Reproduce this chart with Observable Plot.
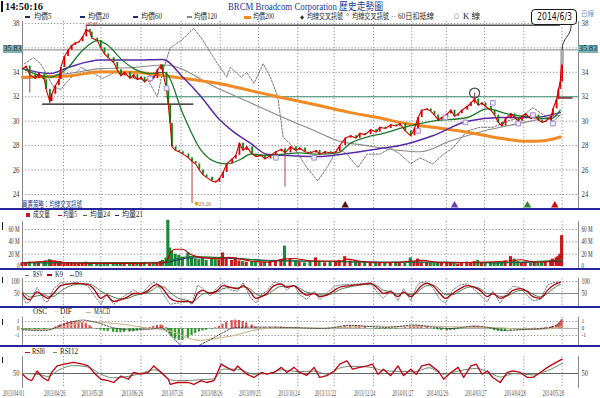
<!DOCTYPE html>
<html><head><meta charset="utf-8">
<script src="https://cdn.jsdelivr.net/npm/d3@7"></script>
<script src="https://cdn.jsdelivr.net/npm/@observablehq/plot@0.6"></script>
<style>
html,body{margin:0;padding:0;background:#fff;}
#root{position:relative;width:600px;height:398px;overflow:hidden;background:#fff;}
</style></head><body><div id="root"></div>
<script>
// ---------- axis ticks ----------
const tickDay = [0,22.5,43,65,87,108.5,129.5,151,171,192.5,213.5,232.5,253.5,275,296];
const tickLabel = ["2013/04/01","2013/04/26","2013/05/28","2013/06/26","2013/07/26","2013/08/26","2013/09/25","2013/10/24","2013/11/22","2013/12/24","2014/01/27","2014/02/26","2014/03/27","2014/04/28","2014/05/28"];
const priceGrid = [24,26,28,30,32,34,36,38];
const priceLabels = [24,26,28,30,32,34,38];

// ---------- price (trading-day index, close) ----------
const priceDay = [0,2,4,7,9,12,13,15,16,18,20,21,23,25,27,29,31,33,35,37,38,41,43,45,47,50,52,54,56,59,61,63,65,67,70,72,74,76,77,79,80,81,82,84,86,88,91,93,95,97,99,101,104,106,108,110,112,115,117,119,121,123,126,128,131,133,136,139,142,144,147,150,152,155,158,161,163,166,169,172,174,177,180,183,185,188,191,194,196,199,202,205,207,210,213,215,217,219,222,224,226,228,230,233,235,237,239,241,244,246,248,250,252,254,257,259,261,263,265,268,270,272,274,276,279,281,283,285,287,290,291,293,294,295,296];
const priceClose = [34.3,34.5,33.8,33.5,33.9,33.4,32.6,31.6,32.2,32.9,33.4,34.4,35.3,35.8,36.2,36.4,36.5,36.9,37.5,37.3,36.8,36.6,36.0,35.5,35.2,34.8,34.2,33.7,34.0,33.5,33.8,33.4,33.6,33.2,33.7,33.5,34.2,34.6,34.0,32.6,31.3,29.8,27.9,27.6,27.5,27.3,27.0,26.7,26.5,26.0,25.6,25.4,25.1,25.0,25.3,25.8,26.5,26.9,27.2,28.2,27.6,27.9,27.3,27.1,27.2,26.9,27.2,27.5,27.7,27.4,27.9,27.6,27.8,27.5,27.4,27.6,27.3,27.5,27.4,27.5,28.0,28.6,28.8,28.6,29.0,28.9,29.3,29.1,29.5,29.4,29.7,29.6,29.8,29.2,28.8,29.4,30.3,30.9,31.0,30.8,30.5,30.1,30.3,30.6,30.9,30.4,30.6,30.9,31.2,31.5,31.8,31.3,31.5,31.2,30.9,30.5,29.9,29.6,30.2,30.6,30.3,30.0,30.4,30.6,30.2,30.5,30.1,29.9,30.0,30.4,31.0,31.8,32.6,33.2,35.83];
const volume = [6,5,7,5,6,8,9,11,10,9,8,7,6,5,6,5,4,6,7,5,4,5,6,5,4,5,6,5,4,5,4,5,6,5,4,5,6,8,10,14,75,30,25,20,18,15,22,14,12,11,13,10,12,14,11,22,12,10,14,9,8,7,8,7,6,7,8,9,10,33,12,9,7,6,8,14,7,6,7,8,10,16,9,7,6,8,5,7,6,5,6,7,6,5,14,8,12,7,6,5,6,5,6,7,5,6,4,5,7,6,8,10,6,5,6,5,7,6,9,16,12,8,6,7,5,6,5,6,8,10,12,14,16,20,50];
const wickDay = [4,15,35,93,144,248];
const wickLow = [32.3,31.3,37.0,23.26,24.6,31.4];
const wickHigh = [34.0,32.5,37.85,26.9,27.8,32.3];
const lastBody = [34.6,35.83];

// ---------- moving averages ----------
const ma20Day = [0,15,25,33,41,47,54,61,70,77,79,88,98,107,112,120,125,134,143,152,162,173,180,189,198,207,225,244,255,266,280,290,295];
const ma20 = [34.3,33.6,34.4,35.8,36.6,36.2,35.1,34.3,33.9,34.0,33.9,30.6,27.6,26.6,26.5,26.9,27.3,27.2,27.3,27.4,27.3,27.4,28.2,28.7,29.0,29.4,30.0,30.3,31.0,30.6,30.3,30.2,30.9];
const ma60Day = [0,15,25,43,61,77,88,98,107,116,125,134,143,162,180,198,207,225,244,262,280,295];
const ma60 = [34.3,33.9,34.4,35.0,35.0,35.05,33.6,32.0,30.3,29.1,28.2,27.3,27.2,27.1,27.4,27.8,28.0,28.8,30.0,30.3,30.3,30.7];
const ma120Day = [0,25,43,61,78,107,125,143,162,173,189,207,218,235,253,272,295];
const ma120 = [33.5,33.9,34.3,34.4,34.6,32.7,31.5,30.3,29.1,28.4,28.0,27.6,27.5,28.4,29.2,29.8,30.5];
const ma200Day = [0,25,43,61,79,98,107,125,140,162,180,198,207,225,244,262,277,286,295];
const ma200 = [33.6,33.7,34.05,34.0,33.7,33.3,33.1,32.5,32.0,31.3,30.7,30.2,29.9,29.5,29.1,28.6,28.35,28.4,28.7];
const deductDay = [1,6,10,17,21,25,32,39,44,52,61,69,74,77,81,87,94,99,107,112,114,120,123,127,132,136,140,143,149,156,162,167,173,178,184,189,196,202,207,213,218,225,231,236,244,251,258,266,273,280,286,291,295];
const deduct = [34.7,35.2,34.7,32.8,32.6,33.3,34.4,33.9,33.5,34.1,33.5,33.3,32.0,34.1,36.0,36.6,37.6,36.6,34.7,33.6,34.4,33.6,34.0,33.1,34.7,33.6,32.0,28.7,27.8,26.2,25.1,26.2,27.8,27.3,26.2,27.3,27.3,27.8,27.3,26.5,27.0,26.5,27.3,27.8,29.2,29.5,29.5,30.0,30.3,31.1,30.5,30.0,30.5];
const signalDay = [70,79,139,160,217,232,243,258,272,280,291];
const signalPrice = [33.5,32.7,27.0,27.0,29.2,30.3,29.9,31.5,29.8,30.5,29.8];
const triangleDay = [177,237,277,292];
const triangleColor = ["#5a1010","#6a3cc0","#2a8a2a","#d01010"];

// ---------- volume averages ----------
const volMa5Day = [0,10,16,22,40,60,76,79,81,84,88,92,100,108,113,118,125,135,143,148,160,175,178,186,200,214,219,230,250,268,273,282,290,294,296];
const volMa5 = [6,8,9,7,5,5,6,8,22,28,28,20,14,13,15,13,9,7,12,13,9,9,12,8,6,9,10,6,7,9,11,7,8,12,20];
const volMa24Day = [0,40,78,84,92,105,120,135,150,170,200,230,260,280,296];
const volMa24 = [6,6,7,12,16,15,13,9,9,8,7,7,6,8,10];
const volMa21 = [6,6,6,10,14,14,12,10,9,8,7,7,6,7,9];

// ---------- KD ----------
const kdDay = [0,2,4,8,12,14,17,21,25,30,36,39,43,46,50,54,58,61,65,69,72,74,77,81,85,91,93,96,99,103,107,110,114,118,121,125,128,131,134,138,142,145,149,152,156,160,163,167,171,174,180,185,191,195,198,202,206,209,213,216,218,222,225,229,232,236,240,244,247,251,255,258,262,266,269,273,277,280,284,288,291,295];
const k9 = [50,30,24,57,37,30,50,83,89,92,87,70,30,43,17,24,37,50,50,63,83,87,70,30,17,17,11,50,63,50,63,83,76,70,83,57,30,37,50,83,89,76,83,63,43,50,37,43,63,76,83,87,92,70,50,57,37,57,37,57,76,92,83,50,30,50,70,83,79,63,37,50,30,43,63,70,57,37,30,63,83,96];
const d9 = [55,45,35,40,45,38,38,60,78,88,90,82,60,48,35,27,30,40,47,55,68,78,78,55,32,20,15,30,48,54,57,70,75,73,77,68,48,40,44,65,80,80,81,72,55,50,44,44,53,66,78,85,89,80,63,58,47,52,45,52,65,83,85,65,45,45,60,75,78,70,50,48,38,40,52,63,60,47,36,50,70,88];
const rsv = [40,10,15,75,20,15,70,95,92,97,80,45,5,45,5,30,50,65,45,80,97,90,50,5,10,15,5,85,70,40,75,95,65,60,95,35,10,45,60,97,90,65,85,45,25,60,25,50,80,85,88,90,95,50,30,65,20,70,20,75,95,98,75,25,10,65,85,90,72,45,15,60,10,55,80,75,40,20,25,85,95,99];

// ---------- MACD ----------
const osc = [-0.2,-0.25,-0.3,-0.3,-0.25,-0.15,-0.1,-0.05,0.0,0.2,0.4,0.5,0.7,0.9,1.0,1.0,0.95,0.85,0.7,0.4,0.2,-0.1,-0.25,-0.35,-0.45,-0.55,-0.6,-0.6,-0.55,-0.5,-0.45,-0.35,-0.25,-0.1,0.15,0.3,0.45,0.5,0.4,0.1,-0.3,-0.8,-1.2,-1.5,-1.7,-1.7,-1.4,-1.0,-0.7,-0.5,-0.35,-0.25,-0.1,0.1,0.3,0.6,0.9,1.15,1.2,1.15,1.0,0.8,0.5,0.2,0.05,0.1,0.15,0.2,0.2,0.15,0.1,0.15,0.1,0.0,-0.05,-0.1,-0.1,-0.05,0.0,0.1,0.2,0.35,0.4,0.4,0.35,0.2,0.0,-0.1,-0.15,-0.15,-0.1,-0.1,0.0,0.15,0.3,0.4,0.4,0.35,0.2,0.05,-0.1,-0.2,-0.3,-0.35,-0.3,-0.25,-0.15,-0.05,0.1,0.2,0.3,0.3,0.2,0.05,-0.1,-0.3,-0.4,-0.45,-0.4,-0.25,-0.1,-0.05,0.0,0.05,0.0,0.05,0.0,0.05,0.1,0.2,0.3,0.45,0.6,0.85,1.2];
const difDay = [0,12,25,33,40,50,60,70,76,80,86,92,100,110,116,125,135,152,165,180,190,200,215,225,235,248,258,265,275,285,292,296];
const dif = [-0.2,-0.3,0.8,1.2,0.9,0.1,-0.2,-0.1,0.1,-0.6,-2.2,-2.8,-2.0,-0.6,0.1,0.2,0.2,0.1,0.0,0.45,0.3,0.15,0.5,0.2,0.0,0.35,0.05,-0.3,-0.15,0.0,0.35,1.3];
const macdDay = [0,12,25,36,43,55,65,75,83,90,97,105,116,127,134,145,152,165,180,195,210,222,235,250,262,275,288,296];
const macd = [-0.1,-0.15,0.4,1.0,0.9,0.6,0.2,-0.1,-0.5,-1.3,-1.7,-1.45,-1.0,-0.25,0.0,0.1,0.05,0.05,0.2,0.35,0.25,0.35,0.25,0.15,0.1,-0.15,-0.05,0.3];

// ---------- RSI ----------
const rsiDay = [0,3,5,8,11,14,16,19,23,28,33,36,40,43,47,50,54,58,61,65,69,72,76,80,81,85,91,94,98,101,105,109,112,116,118,123,127,131,134,138,142,145,149,152,156,160,163,167,171,174,178,181,185,189,192,195,198,202,206,209,213,216,219,223,228,231,235,239,242,246,249,252,255,258,262,266,269,273,277,280,284,288,291,296];
const rsi6 = [48,34,30,57,39,30,53,71,76,81,76,71,48,34,30,25,43,34,53,48,53,71,53,34,20,25,25,20,30,25,30,76,67,57,71,48,39,53,48,53,67,53,67,53,45,67,39,44,57,76,85,62,67,71,76,48,62,44,71,44,62,48,71,76,57,34,53,67,39,71,76,48,57,39,25,53,57,53,39,39,53,67,76,90];
const rsi12Day = [0,8,14,20,28,36,43,50,58,65,72,76,81,88,98,105,110,118,127,135,142,152,160,167,174,180,190,198,206,215,223,231,240,249,258,262,270,280,288,296];
const rsi12 = [50,48,42,60,72,68,48,38,42,50,60,55,32,30,33,35,62,62,48,50,60,55,57,48,65,70,68,58,56,55,66,48,58,64,48,40,50,46,58,78];

// ================= drawing =================
const ROOT = document.getElementById("root");
const FRAME = "#8a8a8a", GRID = "#8c8c8c", DASH = "1.2,2";
const RED = "#e00000", GREEN = "#0a8a0a";
const SERIF = '"Liberation Serif","Noto Sans CJK TC",serif';
const rows = (days, vals) => days.map((d, i) => ({day: d, v: vals[i]}));

function panel(top, height, yDomain, marks, fontSize = "8.5px") {
  const svg = Plot.plot({
    width: 600, height, marginLeft: 22, marginRight: 22, marginTop: 0, marginBottom: 0,
    x: {domain: [0, 305], axis: null},
    y: {domain: yDomain, axis: null},
    style: {background: "transparent", overflow: "visible", fontFamily: '"Liberation Serif", serif', fontSize},
    marks
  });
  svg.style.position = "absolute"; svg.style.left = "0px"; svg.style.top = top + "px";
  ROOT.appendChild(svg);
  return svg;
}
function axisLabels(ticks, fmt) {
  return [
    Plot.text(ticks, {y: d => d, text: fmt, frameAnchor: "left", dx: -3, textAnchor: "end", fill: "#333"}),
    Plot.text(ticks, {y: d => d, text: fmt, frameAnchor: "right", dx: 3, textAnchor: "start", fill: "#333"})
  ];
}
function vgrid(y1, y2) {
  return [
    Plot.ruleX(tickDay.slice(1), {x: d => d, y1: () => y1, y2: () => y2, stroke: GRID, strokeDasharray: DASH}),
    Plot.ruleX([0, 305], {x: d => d, y1: () => y1, y2: () => y2, stroke: FRAME})
  ];
}
function condense(svg, f) {
  svg.querySelectorAll("text").forEach(t => {
    const L = t.getComputedTextLength();
    if (L > 0) { t.setAttribute("textLength", (L * f).toFixed(1)); t.setAttribute("lengthAdjust", "spacingAndGlyphs"); }
  });
}
function label(txt, x, yc, w, o = {}) {
  const size = o.size || 9;
  const s = document.createElement("div");
  s.textContent = txt;
  s.style.cssText = `position:absolute;left:${x}px;top:${yc - size * 0.5}px;white-space:nowrap;line-height:${size}px;height:${size}px;font-size:${size}px;font-family:${o.font || SERIF};color:${o.color || "#222"};font-weight:${o.weight || "normal"};transform-origin:0 50%;`;
  ROOT.appendChild(s);
  if (w) { const nat = s.getBoundingClientRect().width; if (nat > 0) s.style.transform = `scaleX(${w / nat})`; }
  return s;
}
function box(x, y, w, h, css) {
  const d = document.createElement("div");
  d.style.cssText = `position:absolute;left:${x}px;top:${y}px;width:${w}px;height:${h}px;${css}`;
  ROOT.appendChild(d);
  return d;
}

// ---- main price panel ----
const candleRows = priceDay.slice(1).map((d, i) => ({day: d, o: priceClose[i], c: priceClose[i + 1]}));
const wickRows = wickDay.map((d, i) => ({day: d, lo: wickLow[i], hi: wickHigh[i]}));
const priceRows = rows(priceDay, priceClose);
const main = panel(21, 187, [22.85, 38.16], [
  Plot.ruleY(priceGrid, {stroke: GRID, strokeDasharray: DASH}),
  ...vgrid(38.16, 22.85),
  Plot.ruleY([{y: 35.83, a: 0, b: 305}], {y: "y", x1: "a", x2: "b", stroke: "#9c9c9c", strokeWidth: 1.3}),
  Plot.ruleY([{y: 32.0, a: 78, b: 305}], {y: "y", x1: "a", x2: "b", stroke: "#3f8f70", strokeWidth: 1.1}),
  Plot.ruleY([{y: 31.4, a: 11, b: 94}], {y: "y", x1: "a", x2: "b", stroke: "#111", strokeWidth: 1.2}),
  Plot.ruleY([{y: 37.85, a: 35, b: 295}], {y: "y", x1: "a", x2: "b", stroke: "#555", strokeWidth: 1.4}),
  Plot.ruleY([{y: 31.9, a: 294, b: 302}], {y: "y", x1: "a", x2: "b", stroke: "#6a1a1a", strokeWidth: 1.4}),
  Plot.line(rows(deductDay, deduct), {x: "day", y: "v", stroke: "#666", strokeWidth: 0.9, strokeDasharray: "2,1.5"}),
  Plot.line(rows(ma120Day, ma120), {x: "day", y: "v", stroke: "#8a8a8a", strokeWidth: 1.1, curve: "monotone-x"}),
  Plot.line(rows(ma200Day, ma200), {x: "day", y: "v", stroke: "#f08a24", strokeWidth: 3, curve: "monotone-x"}),
  Plot.line(rows(ma60Day, ma60), {x: "day", y: "v", stroke: "#5a2aa8", strokeWidth: 1.5, curve: "monotone-x"}),
  Plot.line(rows(ma20Day, ma20), {x: "day", y: "v", stroke: "#1c7a2c", strokeWidth: 1.3, curve: "monotone-x"}),
  Plot.ruleX(wickRows, {x: "day", y1: "lo", y2: "hi", stroke: "#b04040", strokeWidth: 1}),
  Plot.ruleX(candleRows.filter(d => d.c < d.o), {x: "day", y1: "o", y2: "c", stroke: GREEN, strokeWidth: 1.8}),
  Plot.ruleX(candleRows.filter(d => d.c >= d.o), {x: "day", y1: "o", y2: "c", stroke: RED, strokeWidth: 1.8}),
  Plot.line(priceRows, {x: "day", y: "v", stroke: "#d00000", strokeWidth: 1.1}),
  Plot.ruleX([{day: 296, o: lastBody[0], c: lastBody[1]}], {x: "day", y1: "o", y2: "c", stroke: "#a8a8a8", strokeWidth: 3.5}),
  Plot.link([{x1: 296, y1: 35.83, x2: 301, y2: 37.92}], {x1: "x1", y1: "y1", x2: "x2", y2: "y2", stroke: "#333", strokeWidth: 1, curve: "bump-y"}),
  Plot.dot(rows(signalDay, signalPrice), {x: "day", y: "v", symbol: "square", r: 2.6, stroke: "#a58ad8", fill: "#f4efff", strokeWidth: 1}),
  Plot.dot([{day: 248, v: 32.3}], {x: "day", y: "v", r: 5, stroke: "#444", fill: "none", strokeWidth: 1.2}),
  ...triangleDay.map((d, i) => Plot.dot([{day: d}], {x: "day", y: () => 23.1, symbol: "triangle", r: 2.8, fill: triangleColor[i]})),
  Plot.dot([{day: 95.5, v: 23.26}], {x: "day", y: "v", r: 2, fill: "#f0a020"}),
  Plot.text([{day: 96.5, v: 23.26}], {x: "day", y: "v", text: () => "23.26", textAnchor: "start", fill: "#8a6a4a", fontSize: 7}),
  Plot.text([{day: 35, v: 37.85}], {x: "day", y: "v", text: () => "37.85", textAnchor: "start", dx: 1, dy: -1, fill: "#b04a3a", fontSize: 6}),
  ...axisLabels(priceLabels, d => String(d))
]);
condense(main, 0.8);

// ---- volume panel ----
const volRows = priceDay.map((d, i) => ({day: d, v: volume[i], up: i === 0 || priceClose[i] >= priceClose[i - 1]}));
const vol = panel(210, 58, [-3.24, 90.8], [
  Plot.ruleY([20, 40, 60], {stroke: GRID, strokeDasharray: DASH}),
  ...vgrid(73, -3.24),
  Plot.rectY(volRows.filter(d => !d.up), {x1: d => d.day - 0.85, x2: d => d.day + 0.85, y: "v", fill: "#1a8a3a"}),
  Plot.rectY(volRows.filter(d => d.up), {x1: d => d.day - 0.85, x2: d => d.day + 0.85, y: "v", fill: "#c81818"}),
  Plot.line(rows(volMa24Day, volMa21), {x: "day", y: "v", stroke: "#1f2a6b", strokeWidth: 1, curve: "monotone-x"}),
  Plot.line(rows(volMa24Day, volMa24), {x: "day", y: "v", stroke: "#1c7a2c", strokeWidth: 1.1, curve: "monotone-x"}),
  Plot.line(rows(volMa5Day, volMa5), {x: "day", y: "v", stroke: "#c00000", strokeWidth: 1.1, curve: "monotone-x"}),
  ...axisLabels([0, 20, 40, 60], d => d === 0 ? "0" : d + " M")
], "8px");
condense(vol, 0.65);

// ---- KD panel ----
const kd = panel(270, 36, [-4.2, 145.8], [
  Plot.ruleY([100], {stroke: GRID, strokeDasharray: DASH}),
  ...vgrid(112, -4.2),
  Plot.ruleY([50], {stroke: "#888", strokeWidth: 1}),
  Plot.line(rows(kdDay, rsv), {x: "day", y: "v", stroke: "#555", strokeWidth: 0.8, strokeDasharray: "1.5,1.5"}),
  Plot.line(rows(kdDay, d9), {x: "day", y: "v", stroke: "#4a7a4a", strokeWidth: 1, curve: "monotone-x"}),
  Plot.line(rows(kdDay, k9), {x: "day", y: "v", stroke: "#b00010", strokeWidth: 1.3, curve: "monotone-x"}),
  ...axisLabels([100, 50], d => String(d))
], "8px");
condense(kd, 0.7);

// ---- MACD panel ----
const oscRows = priceDay.map((d, i) => ({day: d, v: osc[i]}));
const mac = panel(308, 37, [-2.43, 2.857], [
  Plot.ruleY([1, -1], {stroke: GRID, strokeDasharray: DASH}),
  ...vgrid(1.6, -2.43),
  Plot.ruleY([0], {stroke: "#999", strokeWidth: 0.8}),
  Plot.rectY(oscRows.filter(d => d.v < 0), {x1: d => d.day - 0.6, x2: d => d.day + 0.6, y: "v", fill: "#2a9a2a"}),
  Plot.rectY(oscRows.filter(d => d.v >= 0), {x1: d => d.day - 0.6, x2: d => d.day + 0.6, y: "v", fill: "#e05050"}),
  Plot.line(rows(macdDay, macd), {x: "day", y: "v", stroke: "#c8b48a", strokeWidth: 1.1, curve: "monotone-x", clip: true}),
  Plot.line(rows(difDay, dif), {x: "day", y: "v", stroke: "#333", strokeWidth: 0.9, strokeDasharray: "1.5,1.5", curve: "monotone-x", clip: true}),
  ...axisLabels([1, 0, -1], d => String(d))
], "6px");
condense(mac, 0.9);

// ---- RSI panel ----
const rsi = panel(347, 41, [8.33, 122.2], [
  ...vgrid(97, 8.33),
  Plot.ruleY([50], {stroke: "#666", strokeWidth: 1}),
  Plot.line(rows(rsi12Day, rsi12), {x: "day", y: "v", stroke: "#6a8a6a", strokeWidth: 1, curve: "monotone-x"}),
  Plot.line(rows(rsiDay, rsi6), {x: "day", y: "v", stroke: "#c00010", strokeWidth: 1.3}),
  ...axisLabels([50], d => String(d))
], "8px");
condense(rsi, 0.8);

// ---- x labels ----
const xl = panel(388, 10, [0, 1], [
  Plot.text(tickDay.map((d, i) => ({day: d, t: tickLabel[i]})), {x: "day", frameAnchor: "middle", text: "t", textAnchor: "end", dx: 2, fill: "#505050", fontSize: 8})
]);
xl.querySelectorAll("text").forEach(t => { t.setAttribute("textLength", "21.5"); t.setAttribute("lengthAdjust", "spacingAndGlyphs"); });

// ---- separators ----
[208, 268, 306, 345].forEach(y => box(0, y, 600, 2, "background:#26269a;"));

// ---- header ----
box(1, 1, 1.5, 11, "background:#111;");
label("14:50:16", 5, 7, 38, {size: 10, weight: "bold", color: "#111"});
label("BRCM Broadcom Corporation 歷史走勢圖", 228, 6.5, 155, {size: 10, color: "#1b3c9c"});

const legendY = 16.5;
const lg = [
  [25, "#1f2a6b", "均價5", 33.5, 17.5],
  [80, "#1f2a6b", "均價20", 88, 21],
  [133, "#1f2a6b", "均價60", 141, 21],
  [187, "#8a8a8a", "均價120", 194, 23],
  [244, "#f08a24", "均價200", 253, 21]
];
lg.forEach(([mx, c, t, tx, tw]) => {
  box(mx, legendY - 1, mx === 244 ? 7 : 5, mx === 244 ? 3 : 2, `background:${c};`);
  label(t, tx, legendY, tw, {size: 8});
});
label("◆", 300, legendY, 4, {size: 6, color: "#333", font: "DejaVu Sans"});
label("均線交叉訊號", 307, legendY, 36, {size: 8});
label("°", 346, legendY, 3, {size: 7, color: "#333"});
label("均線交叉訊號", 352, legendY, 37, {size: 8});
label("··", 391, legendY, 5, {size: 8, color: "#333"});
label("60日扣抵線", 398, legendY, 36, {size: 8});
label("○", 454, legendY, 5, {size: 7, color: "#333", font: "DejaVu Sans"});
label("K 線", 463, legendY, 17, {size: 8});
box(531, 9, 44, 14, "border:1.5px solid #1a1a1a;border-radius:4px;background:#fff;");
label("2014/6/3", 537, 16.5, 35, {size: 10, font: "DejaVu Sans", color: "#111"});
label("日線", 581, 14, 13, {size: 7, color: "#7090d0"});

// ---- price tags 35.83 ----
const y3583 = 21 + main.scale("y").apply(35.83);
box(3, y3583 - 4, 19, 8, "background:#7fb3b0;");
label("35.83", 3.5, y3583, 18, {size: 8, color: "#123"});
box(578, y3583 - 4, 20, 8, "background:#7fb3b0;");
label("35.83", 579, y3583, 18, {size: 8, color: "#123"});

// strategy note
label("買賣策略：均線交叉訊號", 22, 204.5, 60, {size: 7.5, color: "#2a3a7a"});

// ---- lower legends ----
box(26, 213, 4, 4, "background:#c81818;");
label("成交量", 33, 215, 17, {size: 8});
box(58, 214.5, 4, 1.5, "background:#c00000;");
label("均量5", 63, 215, 14, {size: 8});
box(83, 214.5, 4, 1.5, "background:#1c7a2c;");
label("均量24", 90, 215, 20, {size: 8});
box(115, 214.5, 4, 1.5, "background:#1f2a6b;");
label("均量21", 122, 215, 21, {size: 8});

box(25, 274.5, 4, 1.2, "background:#777;");
label("RSV", 33, 275, 10, {size: 8});
box(47, 274.3, 5, 2, "background:#b00010;");
label("K9", 55, 275, 8, {size: 8});
box(70, 274.5, 4, 1.5, "background:#4a7a4a;");
label("D9", 75, 275, 7, {size: 8});

label("OSC", 33, 312, 14, {size: 8});
label("··", 55, 312, 3, {size: 8, color: "#333"});
label("DIF", 60, 312, 12, {size: 8});
box(86, 311.5, 5, 1.5, "background:#c8b48a;");
label("MACD", 94, 312, 16, {size: 8});

box(25, 351.5, 5, 1.8, "background:#c00010;");
label("RSI6", 32, 352, 13, {size: 8});
box(53, 351.5, 4, 1.5, "background:#6a8a6a;");
label("RSI12", 60, 352, 18, {size: 8});

[[222, 8], [277, 6], [319, 6], [357, 6]].forEach(([y, h]) => box(2, y, 1, h, "background:#222;"));
</script></body></html>
